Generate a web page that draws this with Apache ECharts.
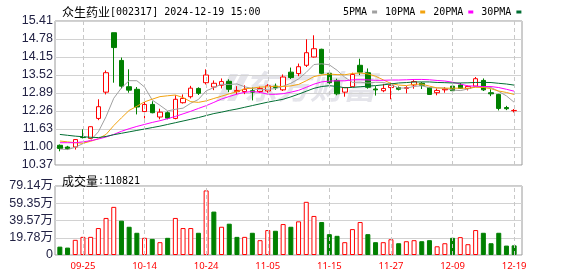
<!DOCTYPE html>
<html><head><meta charset="utf-8">
<script src="https://cdn.jsdelivr.net/npm/echarts@6/dist/echarts.min.js"></script>
<style>html,body{margin:0;padding:0;background:#fff}#c{width:578px;height:276px}</style>
</head><body><div id="c"></div>
<script>
const dates = ['09-20','09-23','09-24','09-25','09-26','09-27','09-30','10-08','10-09','10-10','10-11','10-14','10-15','10-16','10-17','10-18','10-21','10-22','10-23','10-24','10-25','10-28','10-29','10-30','10-31','11-01','11-04','11-05','11-06','11-07','11-08','11-11','11-12','11-13','11-14','11-15','11-18','11-19','11-20','11-21','11-22','11-25','11-26','11-27','11-28','11-29','12-02','12-03','12-04','12-05','12-06','12-09','12-10','12-11','12-12','12-13','12-16','12-17','12-18','12-19'];
const opens  = [11.06,11.00,11.00,11.34,11.30,12.00,12.92,15.00,14.03,13.11,13.02,12.24,12.49,12.05,12.20,12.00,12.55,12.76,13.05,13.25,13.10,13.16,13.30,12.94,12.94,12.97,12.94,12.96,13.13,13.00,13.62,13.57,13.86,14.15,14.42,13.58,13.33,12.92,13.11,13.86,13.60,13.03,12.97,13.08,13.08,13.05,13.17,13.23,13.08,12.90,13.00,13.13,13.17,13.05,13.13,13.33,12.90,12.84,12.38,12.27];
const closes = [10.95,10.94,11.26,11.33,11.71,12.41,13.60,14.48,13.13,12.99,12.40,12.49,12.20,12.22,12.01,12.67,12.70,13.06,12.88,13.52,13.23,13.29,13.02,12.98,13.02,12.92,13.05,13.14,13.08,13.45,13.43,13.81,14.30,14.44,13.58,13.25,12.86,13.08,13.54,13.62,13.09,13.00,13.05,13.16,13.02,13.08,13.29,13.16,12.84,12.98,13.03,12.97,13.05,13.12,13.39,13.00,12.86,12.35,12.34,12.28];
const lows   = [10.85,10.90,10.91,11.30,11.29,11.94,12.84,13.25,13.05,12.90,12.14,12.00,12.18,11.97,11.97,11.97,12.52,12.70,12.82,13.19,12.99,13.05,12.92,12.84,12.85,12.63,12.89,12.90,13.00,12.96,13.38,13.48,13.80,14.13,13.55,13.19,12.81,12.76,13.10,13.52,13.04,12.80,12.92,12.67,12.98,12.88,13.04,13.03,12.82,12.81,12.90,12.93,13.03,12.98,13.12,12.96,12.78,12.28,12.29,12.21];
const highs  = [11.09,11.04,11.27,11.62,11.72,12.67,13.68,15.00,14.13,13.72,13.10,12.63,12.60,12.34,12.25,12.81,12.84,13.14,13.09,13.72,13.33,13.40,13.37,13.13,13.16,13.08,13.11,13.20,13.22,13.54,13.78,13.92,14.77,14.91,14.44,13.62,13.39,13.10,13.60,14.09,13.75,13.13,13.21,13.25,13.12,13.13,13.34,13.27,13.10,13.05,13.10,13.17,13.24,13.15,13.45,13.40,13.02,12.86,12.44,12.33];
// volume in 万手
const volumes = [9.6,8.5,17.4,20.8,20.8,30.9,42.5,55.2,39.4,32.4,25.5,19.7,18.5,14.7,19.7,42.5,30.9,30.9,25.5,74.1,49.8,32.4,35.9,20.8,20.8,25.5,17.0,28.6,27.8,35.5,32.4,38.6,61.0,44.8,37.8,23.9,22.0,14.7,29.7,37.8,23.9,14.7,14.7,18.1,13.5,15.8,17.0,15.8,17.0,10.0,13.5,19.7,20.5,12.4,28.6,25.5,13.5,25.5,10.8,11.0821];
// moving-average values before the window is complete
const ma5Head  = [10.93,10.91,10.99,11.12];
const ma10Head = [11.21,11.18,11.15,11.13,11.20,11.29,11.44,11.75,12.02];
const ma20Head = [11.15,11.15,11.15,11.18,11.22,11.28,11.35,11.44,11.55,11.64,11.72,11.79,11.86,11.92,11.99,12.07,12.16,12.25,12.35];
const ma30Head = [11.44,11.41,11.38,11.36,11.34,11.33,11.37,11.43,11.48,11.53,11.58,11.63,11.68,11.73,11.79,11.85,11.91,11.97,12.03,12.10,12.17,12.22,12.28,12.33,12.39,12.45,12.51,12.57,12.62];
const priceTicks = ['10.37','11.00','11.63','12.26','12.89','13.52','14.15','14.78','15.41'];
const volTicks = ['0','19.78万','39.57万','59.35万','79.14万'];
const maNames = ['5PMA','10PMA','20PMA','30PMA'];

function ma(n, head) {
  return closes.map((c, i) => {
    if (i < n - 1) return head[i];
    let s = 0; for (let k = i - n + 1; k <= i; k++) s += closes[k];
    return +(s / n).toFixed(3);
  });
}
const maData = [ma(5, ma5Head), ma(10, ma10Head), ma(20, ma20Head), ma(30, ma30Head)];
const maColors = ['#a0a0a0', '#f2a30f', '#ff00ff', '#006e33'];
const RED = '#ff0000', GREEN = '#008000';
const labelIdx = (i) => (i - 3) % 8 === 0;
const markDates = dates.filter((d, i) => labelIdx(i));
const mark = {
  silent: true, symbol: ['none', 'none'], animation: false,
  label: { show: false },
  lineStyle: { color: '#c8c8c8', type: [4, 3], width: 1 },
  data: markDates.map(d => ({ xAxis: d }))
};

const chart = echarts.init(document.getElementById('c'));
const mono = '"DejaVu Sans Mono", monospace';
const cjk = '"Noto Sans CJK SC", sans-serif';
const lastVol = Math.round(volumes[volumes.length - 1] * 10000);
const richTxt = { a: { fontFamily: cjk, fontSize: 12, fontWeight: 'normal', color: '#000' }, b: { fontFamily: mono, fontSize: 10, fontWeight: 'normal', color: '#000' } };

chart.setOption({
  animation: false,
  title: [
    { left: 57, top: 1, text: '{a|众生药业}{b|[002317] 2024-12-19 15:00}',
      textStyle: { fontWeight: 'normal', rich: richTxt } },
    { left: 57, top: 170, text: '{a|成交量}{b|:' + lastVol + '}',
      textStyle: { fontWeight: 'normal', rich: richTxt } }
  ],
  legend: {
    left: 338, top: 2, icon: 'rect', itemWidth: 5, itemHeight: 3, itemGap: 8, align: 'right',
    data: maNames, textStyle: { fontFamily: mono, fontSize: 10, color: '#000' }
  },
  graphic: [
    { type: 'text', left: 244, top: 70, z: -10, silent: true,
      style: { text: '东方财富', font: 'italic bold 33px "Noto Sans CJK SC"', fill: '#e4e4ea' } },
    { type: 'polygon', z: -10, silent: true, shape: { points: [[216,101],[224,101],[238,74],[230,74]] }, style: { fill: '#e4e4ea' } },
    { type: 'polygon', z: -10, silent: true, shape: { points: [[227,101],[235,101],[249,74],[241,74]] }, style: { fill: '#e4e4ea' } }
  ],
  grid: [
    { left: 55, top: 21, width: 467, height: 144, show: true, borderColor: '#9a9a9a', borderWidth: 1, backgroundColor: 'transparent' },
    { left: 56, top: 21, width: 462, height: 144 },
    { left: 55, top: 186, width: 467, height: 69, show: true, borderColor: '#9a9a9a', borderWidth: 1, backgroundColor: 'transparent' },
    { left: 56, top: 186, width: 462, height: 69 }
  ],
  xAxis: [
    { gridIndex: 0, type: 'value', min: 0, max: 1, show: false },
    { gridIndex: 1, type: 'category', data: dates, boundaryGap: true, show: false },
    { gridIndex: 2, type: 'value', min: 0, max: 1, show: false },
    { gridIndex: 3, type: 'category', data: dates, boundaryGap: true,
      axisLine: { show: false }, axisTick: { show: false }, splitLine: { show: false },
      axisLabel: { interval: (i) => labelIdx(i), color: RED, fontFamily: '"Noto Sans", sans-serif', fontSize: 9.5, margin: 6 } }
  ],
  yAxis: [
    { gridIndex: 0, type: 'value', min: 10.37, max: 15.41, interval: 0.63,
      axisLine: { show: false }, axisTick: { show: false },
      splitLine: { show: true, lineStyle: { color: '#d2d2d2', width: 1 } },
      axisLabel: { margin: 2, color: '#222244', fontFamily: '"Liberation Sans", Arial, sans-serif', fontSize: 12.5,
        formatter: (v, i) => priceTicks[i] } },
    { gridIndex: 1, type: 'value', min: 10.37, max: 15.41, show: false, splitLine: { show: false } },
    { gridIndex: 2, type: 'value', min: 0, max: 79.14, interval: 19.785,
      axisLine: { show: false }, axisTick: { show: false },
      splitLine: { show: true, lineStyle: { color: '#d2d2d2', width: 1 } },
      axisLabel: { margin: 2, color: '#222244', fontFamily: '"Liberation Sans", "Noto Sans CJK SC", sans-serif', fontSize: 12.5,
        formatter: (v, i) => volTicks[i] } },
    { gridIndex: 3, type: 'value', min: 0, max: 79.14, show: false, splitLine: { show: false } }
  ],
  series: [
    { type: 'candlestick', name: 'K', xAxisIndex: 1, yAxisIndex: 1, barWidth: 5, z: 2,
      data: dates.map((d, i) => [opens[i], closes[i], lows[i], highs[i]]),
      itemStyle: { color: '#ffffff', color0: GREEN, borderColor: RED, borderColor0: GREEN, borderWidth: 1 },
      markLine: mark },
    ...maNames.map((n, k) => ({
      type: 'line', name: n, xAxisIndex: 1, yAxisIndex: 1, data: maData[k], z: 3,
      showSymbol: false, symbol: 'none', smooth: false,
      lineStyle: { color: maColors[k], width: 1 }, itemStyle: { color: maColors[k] }
    })),
    { type: 'bar', name: 'VOL', xAxisIndex: 3, yAxisIndex: 3, barWidth: 5,
      data: volumes.map((v, i) => {
        const up = i === 0 ? closes[i] >= opens[i] : closes[i] >= closes[i - 1];
        return { value: v, itemStyle: up ? { color: '#ffffff', borderColor: RED, borderWidth: 1 } : { color: GREEN, borderColor: GREEN, borderWidth: 1 } };
      }),
      markLine: mark }
  ]
});
</script></body></html>
